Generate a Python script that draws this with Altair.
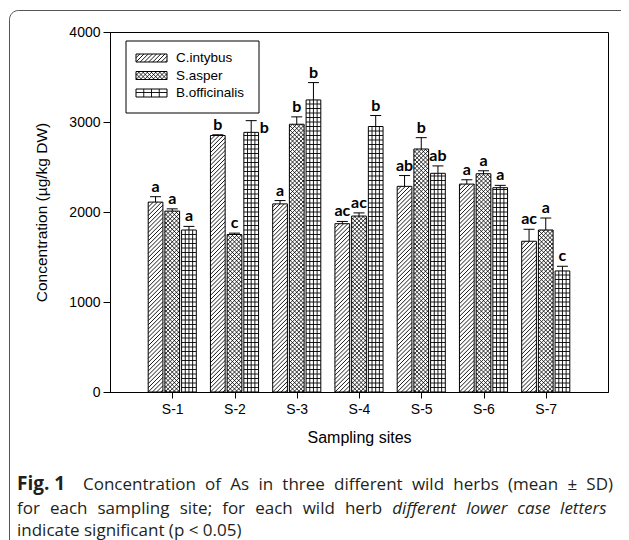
import json
import altair as alt
import numpy as np
import pandas as pd

# ---------------- data ----------------
SITES = ["S-1", "S-2", "S-3", "S-4", "S-5", "S-6", "S-7"]
SPECIES = ["C.intybus", "S.asper", "B.officinalis"]
MEAN_C = [2110, 2850, 2090, 1870, 2285, 2310, 1675]
MEAN_S = [2010, 1750, 2975, 1955, 2700, 2425, 1800]
MEAN_B = [1800, 2885, 3245, 2950, 2430, 2270, 1345]
SD_C = [60, 8, 37, 25, 120, 48, 133]
SD_S = [25, 15, 82, 35, 126, 33, 133]
SD_B = [40, 130, 193, 122, 82, 26, 52]
LET_C = ["a", "b", "a", "ac", "ab", "a", "ac"]
LET_S = ["a", "c", "b", "ac", "b", "a", "a"]
LET_B = ["a", "b", "b", "b", "ab", "a", "c"]
LABEL_BESIDE = [("S-2", "B.officinalis")]
Y_TICKS = [0, 1000, 2000, 3000, 4000]
X_TITLE = "Sampling sites"
Y_TITLE = "Concentration  (µg/kg DW)"
CAP_BOLD = "Fig. 1"
CAP_L1 = "Concentration of As in three different wild herbs (mean ± SD)"
CAP_L2A = "for each sampling site; for each wild herb"
CAP_L2B = "different lower case letters"
CAP_L3 = "indicate significant (p < 0.05)"

# ---------------- layout ----------------
W, H = 498, 360
X_MAX = len(SITES) + 1
Y_MAX = 4000
XPX = W / X_MAX
YPX = H / Y_MAX
BAR_PX = 14.7
PITCH_PX = 16.7
CAP_PX = 11.0
PATTERN = {"C.intybus": "diag", "S.asper": "cross", "B.officinalis": "grid"}
PERIOD = {"diag": 4.2, "cross": 4.2, "grid": 4.5}
HATCH_W = {"diag": 0.9, "cross": 0.8, "grid": 0.9}

MEANS = {"C.intybus": MEAN_C, "S.asper": MEAN_S, "B.officinalis": MEAN_B}
SDS = {"C.intybus": SD_C, "S.asper": SD_S, "B.officinalis": SD_B}
LETS = {"C.intybus": LET_C, "S.asper": LET_S, "B.officinalis": LET_B}


def px_to_x(px):          # plot-relative pixel -> data x
    return px / XPX


def px_to_y(py):          # plot-relative pixel (from top) -> data y
    return (H - py) / YPX


def hatch_segments(w, h, kind, period):
    segs = []
    if h <= 0:
        return segs
    if kind in ("diag", "cross"):
        k0 = int(np.floor(-w / period))
        k1 = int(np.ceil(h / period))
        for k in range(k0, k1 + 1):
            c = k * period
            lo = max(0.0, -c)
            hi = min(w, h - c)
            if hi - lo > 0.3:
                segs.append((lo, lo + c, hi, hi + c))
                if kind == "cross":
                    segs.append((w - lo, lo + c, w - hi, hi + c))
    if kind == "grid":
        for j in (1, 2, 3):
            u = w * j / 4
            segs.append((u, 0, u, h))
        v = period
        while v < h - 0.3:
            segs.append((0, v, w, v))
            v += period
    return segs


rows, hrows = [], []
for si, site in enumerate(SITES):
    for k, sp in enumerate(SPECIES):
        c = (si + 1) + (k - 1) * PITCH_PX / XPX
        m = MEANS[sp][si]
        s = SDS[sp][si]
        x0 = c - BAR_PX / 2 / XPX
        x1 = c + BAR_PX / 2 / XPX
        rows.append(dict(site=site, species=sp, center=c, x0=x0, x1=x1, base=0,
                         mean=m, top=m + s, cl=c - CAP_PX / 2 / XPX,
                         cr=c + CAP_PX / 2 / XPX, xb=c + (CAP_PX / 2 + 3) / XPX,
                         letter=LETS[sp][si], beside=(site, sp) in LABEL_BESIDE))
        kind = PATTERN[sp]
        for (u0, v0, u1, v1) in hatch_segments(BAR_PX, m * YPX, kind, PERIOD[kind]):
            hrows.append(dict(kind=kind, x=x0 + u0 / XPX, y=v0 / YPX,
                              x2=x0 + u1 / XPX, y2=v1 / YPX))

# legend (positions in plot pixels, converted to data units)
LEG_BOX = (16, 149, 9, 81)
lrows = []
for k, sp in enumerate(SPECIES):
    top_px = 22 + 17.5 * k
    bot_px = top_px + 8
    lrows.append(dict(species=sp, x0=px_to_x(26), x1=px_to_x(57),
                      y0=px_to_y(bot_px), y1=px_to_y(top_px),
                      tx=px_to_x(66), ty=px_to_y(top_px + 4)))
    kind = PATTERN[sp]
    for (u0, v0, u1, v1) in hatch_segments(31, 8, kind, PERIOD[kind]):
        hrows.append(dict(kind=kind, x=px_to_x(26 + u0), y=px_to_y(bot_px - v0),
                          x2=px_to_x(26 + u1), y2=px_to_y(bot_px - v1)))

bars = pd.DataFrame(rows)
hatch = pd.DataFrame(hrows)
leg = pd.DataFrame(lrows)

# ---------------- caption layout (approximate justified text) ----------------
OS_W = {' ': .26, 'a': .556, 'b': .613, 'c': .476, 'd': .613, 'e': .561, 'f': .339,
        'g': .548, 'h': .614, 'i': .253, 'l': .253, 'm': .930, 'n': .614, 'o': .604,
        'p': .613, 'r': .408, 's': .477, 't': .353, 'w': .779, 'y': .504, 'k': .525,
        'u': .614, 'C': .631, 'A': .633, 'S': .549, 'D': .722, '(': .296, ')': .296,
        ';': .268, '.': .266, '<': .571, '±': .571, '0': .571, '5': .571, '1': .571}
CAP_FS = 17.0
ITALIC_F = 0.93


def word_w(word, style):
    w = sum(OS_W.get(ch, .55) for ch in word) * CAP_FS
    return w * (ITALIC_F if style == "italic" else 1.0)


def justify(words, x_start, x_end, y):
    nat = [word_w(t, s) for t, s in words]
    gaps = len(words) - 1
    gap = (x_end - x_start - sum(nat)) / gaps if gaps else 0
    out, x = [], x_start
    for (t, s), w in zip(words, nat):
        out.append(dict(t=t, style=s, x=x, y=y))
        x += w + gap
    return out


L = -110 + 17       # page x 17 in plot coords
B1, B2, B3 = 458, 482, 503.5
cap_rows = [dict(t=CAP_BOLD, style="bold", x=L, y=B1)]
cap_rows += justify([(w, "normal") for w in CAP_L1.split(" ")], 83 - 110, 613 - 110, B1)
cap_rows += justify([(w, "normal") for w in CAP_L2A.split(" ")] +
                    [(w, "italic") for w in CAP_L2B.split(" ")], L, 607 - 110, B2)
cap_rows.append(dict(t=CAP_L3, style="normal", x=L, y=B3))
cap_df = pd.DataFrame(cap_rows)
cap_df["xd"] = cap_df["x"].map(px_to_x)
cap_df["yd"] = cap_df["y"].map(px_to_y)

frame_df = pd.DataFrame([dict(x0=px_to_x(-100.5), x1=px_to_x(W + 300),
                              y0=px_to_y(-21.5), y1=px_to_y(H + 300))])
box_df = pd.DataFrame([dict(x0=px_to_x(LEG_BOX[0]), x1=px_to_x(LEG_BOX[1]),
                            y0=px_to_y(LEG_BOX[3]), y1=px_to_y(LEG_BOX[2]))])

# ---------------- chart ----------------
xs = alt.Scale(domain=[0, X_MAX], nice=False, zero=False)
ys = alt.Scale(domain=[0, Y_MAX], nice=False, zero=False)


def X(f):
    return alt.X(f, scale=xs)


def Y(f):
    return alt.Y(f, scale=ys)


x_axis = alt.Axis(values=list(range(1, len(SITES) + 1)),
                  labelExpr=json.dumps(SITES) + "[datum.value - 1]",
                  title=X_TITLE, tickSize=6, labelPadding=4, titleFontSize=16,
                  titlePadding=13, labelAngle=0)
y_axis = alt.Axis(values=Y_TICKS, format="d", title=Y_TITLE, tickSize=7,
                  labelPadding=3, titleFontSize=15.5, titlePadding=19)

bars_fill = alt.Chart(bars).mark_rect(fill="white", strokeWidth=0).encode(
    x=alt.X("x0:Q", scale=xs, axis=x_axis), x2="x1:Q",
    y=alt.Y("base:Q", scale=ys, axis=y_axis), y2="mean:Q")

frame = alt.Chart(frame_df).mark_rect(fill="white", fillOpacity=0, stroke="#555555",
                                      strokeWidth=1, cornerRadius=9).encode(
    x=X("x0:Q"), x2="x1:Q", y=Y("y0:Q"), y2="y1:Q")

box = alt.Chart(box_df).mark_rect(fill="white", stroke="black", strokeWidth=1).encode(
    x=X("x0:Q"), x2="x1:Q", y=Y("y0:Q"), y2="y1:Q")

leg_fill = alt.Chart(leg).mark_rect(fill="white", strokeWidth=0).encode(
    x=X("x0:Q"), x2="x1:Q", y=Y("y0:Q"), y2="y1:Q")

hatch_layers = []
for kind in ("diag", "cross", "grid"):
    hatch_layers.append(
        alt.Chart(hatch).transform_filter(alt.datum.kind == kind)
        .mark_rule(color="black", strokeWidth=HATCH_W[kind]).encode(
            x=X("x:Q"), x2="x2:Q", y=Y("y:Q"), y2="y2:Q"))

outline = alt.Chart(bars).mark_rect(fill="white", fillOpacity=0, stroke="black",
                                    strokeWidth=1).encode(
    x=X("x0:Q"), x2="x1:Q", y=Y("base:Q"), y2="mean:Q")
leg_out = alt.Chart(leg).mark_rect(fill="white", fillOpacity=0, stroke="black",
                                   strokeWidth=1).encode(
    x=X("x0:Q"), x2="x1:Q", y=Y("y0:Q"), y2="y1:Q")

err_v = alt.Chart(bars).mark_rule(color="black", strokeWidth=1).encode(
    x=X("center:Q"), y=Y("mean:Q"), y2="top:Q")
err_cap = alt.Chart(bars).mark_rule(color="black", strokeWidth=1).encode(
    x=X("cl:Q"), x2="cr:Q", y=Y("top:Q"))

letters = alt.Chart(bars).transform_filter("!datum.beside").mark_text(
    baseline="bottom", dy=-2, font="Lato", fontWeight="bold", fontSize=16,
    color="black").encode(x=X("center:Q"), y=Y("top:Q"), text="letter:N")
letters_side = alt.Chart(bars).transform_filter("datum.beside").mark_text(
    align="left", baseline="top", dy=-1, font="Lato", fontWeight="bold",
    fontSize=16, color="black").encode(x=X("xb:Q"), y=Y("top:Q"), text="letter:N")

leg_text = alt.Chart(leg).mark_text(align="left", baseline="middle",
                                    font="Liberation Sans", fontSize=13.5,
                                    color="black").encode(
    x=X("tx:Q"), y=Y("ty:Q"), text="species:N")

cap_layers = []
for style in ("bold", "normal", "italic"):
    kw = dict(align="left", baseline="alphabetic", font="Open Sans", fontSize=CAP_FS,
              color="#231f20")
    if style == "bold":
        kw["fontWeight"] = "bold"
        kw["fontSize"] = 19
    if style == "italic":
        kw["fontStyle"] = "italic"
    cap_layers.append(
        alt.Chart(cap_df).transform_filter(alt.datum.style == style)
        .mark_text(**kw).encode(x=X("xd:Q"), y=Y("yd:Q"), text="t:N"))

chart = alt.layer(
    bars_fill, frame, box, leg_fill, *hatch_layers, outline, leg_out,
    err_v, err_cap, letters, letters_side, leg_text, *cap_layers
).properties(
    width=W, height=H,
    autosize=alt.AutoSizeParams(type="none"),
    padding={"left": 102, "top": 24, "right": 13, "bottom": 148},
).configure_view(
    stroke="black", strokeWidth=1
).configure_axis(
    domainColor="black", tickColor="black", labelColor="black", titleColor="black",
    labelFont="Liberation Sans", titleFont="Liberation Sans", labelFontSize=14,
    titleFontWeight="normal", grid=False, domainWidth=1, tickWidth=1, zindex=1,
)

chart.save("out.html", embed_options={"renderer": "svg", "actions": False})
